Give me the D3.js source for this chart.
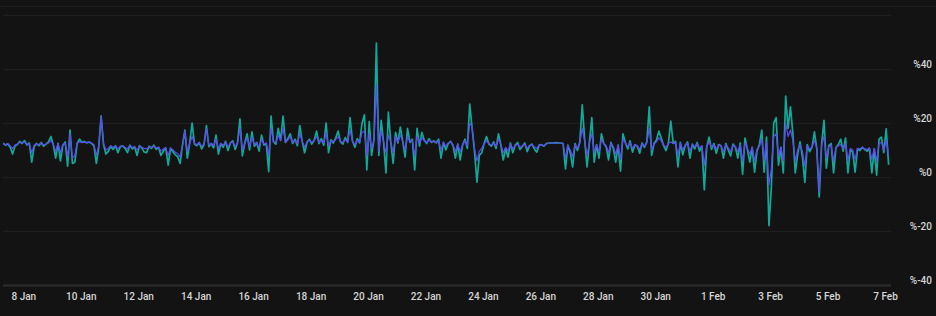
<!DOCTYPE html>
<html><head><meta charset="utf-8">
<script src="https://cdn.jsdelivr.net/npm/d3@7"></script>
<style>
html,body{margin:0;padding:0;background:#131313;}
svg{display:block;}
text{font-family:Roboto,"Noto Sans",sans-serif;}
</style></head><body>
<svg id="chart" width="936" height="316"></svg>
<script>
// ---- data (2-hour samples, % values) ----
const startTime = new Date(2024, 0, 7, 7);
const stepHours = 2;
const spanHours = 742;

const tealSeries = [
12.5,11.8,12.2,11,8.5,11.5,12,13.2,12.4,13.5,
11.8,12.6,5.5,11.2,12.4,11.6,12.8,11.4,12.2,13,
15,12,7,12.5,6,11.8,13,4,17.4,5,
5.5,12.5,14,12.8,13.2,12.6,13,12.4,11.5,5,
11,22.6,12,8.5,9.5,11.4,10.2,11.6,9,11.2,
11.5,10.6,9,11.8,10.4,11.2,8,11.6,10.8,9.2,
9,11.4,10.6,11.8,10.2,11,8,9.6,10.8,4.4,
10.6,9.4,8.2,7.5,5,12,17.4,7,12.5,20,
12.2,11.6,12.8,10.4,12,19,11.2,12.4,10.8,15.5,
8.5,12.4,11,13.2,9.8,12.6,13.4,10.2,12.8,21.5,
7.8,12.6,16,10,16.7,11.4,12.8,9.6,15.5,11.8,
12.4,2,22.6,13,12.2,18,13.6,22.6,12.8,14.2,
16,12.4,14,11.6,19,13.2,9,12.8,14,12.2,
13.6,17,12.4,14.2,11.8,20,9,13.8,12.6,14.4,
17,13,12.2,14.6,12.8,22,13.4,11,14.2,12.6,
20,23,2.6,20.5,8,14,49.6,8,21,12.8,
1.5,24,13,5,16.5,12.6,18.5,13.2,7.4,18,
12.8,14,2.6,18,11.4,16.5,13.6,12.4,14.2,12.8,
13.4,12.6,14,7,12.8,10,12.4,13.2,11.6,7,
12.2,6.3,11.8,14,10.6,27,18,9.4,-1.9,8,
9,12.4,15,12.2,11.4,13,10.6,16,11.8,6.3,
10.4,7.4,12.6,9,11.8,12.8,10.2,11.4,12.6,9.4,
11.6,12.2,10.4,9.2,11.8,12,11.4,12.4,12.6,12.6,
12.6,12.7,12.6,12.6,12.4,3,11.8,9,3.7,12.4,
9.8,13,26.7,14,3.7,12.8,22,5.5,12,7,
16,12.4,11.2,6.3,12.8,10.6,5.5,11.8,2.2,16,
12.8,10.4,13.4,9.2,12,11.4,8.8,12.6,11,13,
26,8,12.4,13.6,17,14.4,11.6,9.8,12.6,20.7,
12.4,13.2,3.7,12.8,8.2,11.6,13,7,12.2,10.4,
12.8,9.6,11.4,-4.8,11,14.8,10.2,12.4,8.8,12,
11.6,7,12.4,10,7.8,12.2,11,7,12.6,1,
14.4,10.2,5.5,11,1.8,9.6,12,17.4,1.8,14.8,
-18,-4,20,22,4.4,11,1.5,30,18,26,
16,1.5,8.5,13,7.4,-2,12,9.4,11,16.7,
10.4,-7.4,12,21,3.3,11.6,12.4,1.5,10.8,12,
14,9.6,14.4,1.5,10,9.2,1.8,10.4,9.8,11,
10.2,9.6,10.6,1.5,10.4,0.7,14,14.8,9,17.8,4.5
];

const purpleSeries = [
12.2,12,12.4,11.6,10.5,11.8,12.2,12.8,12.6,13,
12,12.4,9,11.8,12.2,12,12.6,11.8,12.2,12.6,
13.5,12.2,9.5,12.4,9,12,12.6,7.5,16,7,
8,12.6,13,12.8,12.9,12.8,12.8,12.6,12,8,
11.6,22.6,12.4,10,10.6,11.6,11,11.4,10.4,11.4,
11.4,11,10.4,11.6,11,11.2,10,11.4,11,10.6,
10.4,11.2,11,11.4,10.8,11,9.6,10.4,10.8,8,
10.8,10,9.2,8.6,7.5,11.6,17,9.5,12.4,15,
12.4,12,12.6,11.4,12.2,18,11.8,12.4,11.6,14,
10.4,12.4,11.8,12.8,11.2,12.6,13,11.4,12.6,18,
10,12.4,14.5,11.2,14.8,12,12.6,11,14,12.2,
12.6,8,18,13,12.8,15.5,13.4,18,13,13.6,
15,12.8,13.6,12.4,16,13.2,11,13,13.6,12.8,
13.4,15,12.8,13.6,12.6,16.5,11.5,13.4,13,13.8,
15,13.2,12.8,13.8,13,17.5,13.2,12,13.6,13,
16.5,17,8,16,10.5,13.6,34,9.5,17,13,
9,15.5,13,9,15,13,15.5,13.2,10,15,
13,13.6,8,15,12.6,14.5,13.4,12.8,13.6,13,
13.2,12.8,13.4,10,12.8,11.4,12.6,13,12,9.5,
12.2,9.4,12,13.4,11.6,20,18.5,10.5,6,9.5,
10.6,12.2,13.5,12.4,11.8,12.6,11.4,14,12,9,
11,9.6,12.2,10.4,11.6,12.2,11,11.6,12.2,10.6,
11.6,12,11.2,10.6,11.8,12,11.6,12.2,12.6,12.6,
12.6,12.6,12.6,12.6,12.4,7,11.6,10,7.5,12,
10.6,12.6,18,13.4,8,12.6,16,9,12,9.5,
14,12.4,11.6,9,12.6,11.2,8.5,11.8,6.5,14,
12.6,11.2,12.8,10.6,12,11.6,10.2,12.4,11.4,12.6,
18,10,12.2,13,14.5,13.4,11.8,11,12.4,13,
12.4,12.8,8,12.6,10,11.8,12.6,9.5,12,11.2,
12.4,10.8,11.6,4.4,11.4,13,11,12,10.4,11.8,
11.6,9.4,12,10.8,9.4,11.8,11.2,9.4,12,6,
12.6,10.6,8.4,11,6,10.2,11.4,14,6,13,
-3,3,15,16,8,11,6,20,15,17.4,
13.6,6,10,12,9.4,4,11.6,10.4,11,13.5,
10.8,-5.5,11.6,15,7,11.2,11.8,6,10.8,11.6,
12,10.4,12.4,6,10.6,10,6.5,10.6,10.4,11,
10.4,10.2,10.8,6.5,10.6,6,12.4,12.8,10,13.7,8
];

const xTickDates = ["2024-01-08","2024-01-10","2024-01-12","2024-01-14","2024-01-16","2024-01-18",
  "2024-01-20","2024-01-22","2024-01-24","2024-01-26","2024-01-28","2024-01-30",
  "2024-02-01","2024-02-03","2024-02-05","2024-02-07"];
const xTickLabels = ["8 Jan","10 Jan","12 Jan","14 Jan","16 Jan","18 Jan","20 Jan","22 Jan",
  "24 Jan","26 Jan","28 Jan","30 Jan","1 Feb","3 Feb","5 Feb","7 Feb"];
const yTickValues = [-40,-20,0,20,40];
const yTickLabels = ["%-40","%-20","%0","%20","%40"];
const yGridValues = [-20,0,20,40,60];

// ---- drawing ----
(function () {
  const svg = d3.select("#chart");
  const W = 936, H = 316;
  const pLeft = 3, pRight = 891, pTop = 15, pBottom = 285;

  svg.append("rect").attr("width", W).attr("height", H).attr("fill", "#131313");

  const x = d3.scaleTime()
    .domain([startTime, d3.timeHour.offset(startTime, spanHours)])
    .range([pLeft, pRight]);
  const y = d3.scaleLinear().domain([-40, 60]).range([pBottom, pTop]);

  const parseDay = d3.timeParse("%Y-%m-%d");
  const times = tealSeries.map((_, i) => d3.timeHour.offset(startTime, i * stepHours));

  svg.append("line").attr("x1", 0).attr("x2", W).attr("y1", 6.5).attr("y2", 6.5)
    .attr("stroke", "#1f1f1f").attr("stroke-width", 1);

  svg.append("g").selectAll("line").data(yGridValues).join("line")
    .attr("x1", pLeft).attr("x2", pRight)
    .attr("y1", d => Math.round(y(d)) + 0.5).attr("y2", d => Math.round(y(d)) + 0.5)
    .attr("stroke", "#1f1f1f").attr("stroke-width", 1);

  svg.append("clipPath").attr("id", "plotclip").append("rect")
    .attr("x", pLeft).attr("y", 0).attr("width", pRight - pLeft).attr("height", pBottom);

  const line = d3.line().x((d, i) => x(times[i])).y(d => y(d)).curve(d3.curveLinear);
  const plot = svg.append("g").attr("clip-path", "url(#plotclip)");

  plot.append("path").datum(tealSeries).attr("d", line)
    .attr("fill", "none").attr("stroke", "#14a89b").attr("stroke-width", 1.7)
    .attr("stroke-linejoin", "round");
  plot.append("path").datum(purpleSeries).attr("d", line)
    .attr("fill", "none").attr("stroke", "#6347ee").attr("stroke-width", 1.2)
    .attr("stroke-linejoin", "round");

  svg.append("line").attr("x1", pLeft).attr("x2", pRight)
    .attr("y1", pBottom + 0.5).attr("y2", pBottom + 0.5)
    .attr("stroke", "#2e2e2e").attr("stroke-width", 2);

  const xAxis = d3.axisBottom(x)
    .tickValues(xTickDates.map(parseDay))
    .tickFormat((d, i) => xTickLabels[i])
    .tickSize(0).tickPadding(0);
  const gx = svg.append("g").attr("transform", `translate(0,${pBottom + 8})`).call(xAxis);
  gx.select(".domain").remove();
  gx.selectAll("text").attr("fill", "#d6d6d6").attr("font-size", 10).attr("font-weight", 500)
    .attr("font-family", "Roboto, 'Noto Sans', sans-serif");

  const yAxis = d3.axisRight(y)
    .tickValues(yTickValues)
    .tickFormat((d, i) => yTickLabels[i])
    .tickSize(0).tickPadding(0);
  const gy = svg.append("g").attr("transform", "translate(932,-4.5)").call(yAxis);
  gy.select(".domain").remove();
  gy.selectAll("text").attr("text-anchor", "end").attr("fill", "#d6d6d6")
    .attr("font-size", 10).attr("font-weight", 500)
    .attr("font-family", "Roboto, 'Noto Sans', sans-serif");
})();
</script>
</body></html>
